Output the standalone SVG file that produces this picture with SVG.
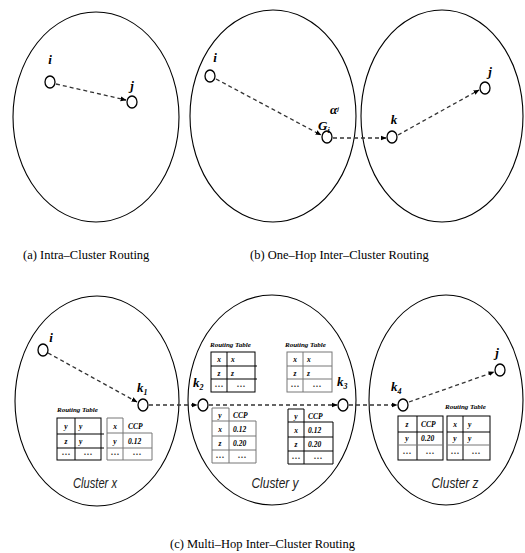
<svg xmlns="http://www.w3.org/2000/svg" width="525" height="553" viewBox="0 0 525 553">
<defs>
<marker id="ah" viewBox="0 0 10 10" refX="9" refY="5" markerWidth="6" markerHeight="6" orient="auto" markerUnits="userSpaceOnUse">
<path d="M0,1 L10,5 L0,9 Z" fill="#000"/>
</marker>
<style>
.cl{fill:none;stroke:#000;stroke-width:1.1}
.nd{fill:#fff;stroke:#000;stroke-width:1.3}
.ed{fill:none;stroke:#333;stroke-width:1.3;stroke-dasharray:4,3;marker-end:url(#ah)}
.lb{font-family:"Liberation Serif",serif;font-style:italic;font-weight:bold;font-size:13px;fill:#000}
.sb{font-size:8px}
.cap{font-family:"Liberation Serif",serif;font-size:12.5px;fill:#000}
.cn{font-family:"Liberation Sans",sans-serif;font-style:italic;font-size:14px;fill:#222}
.tb{fill:none;stroke:#000;stroke-width:1}
.tg{fill:none;stroke:#777;stroke-width:1}
.tt{font-family:"Liberation Serif",serif;font-style:italic;font-weight:bold;font-size:7.5px;fill:#000}
.dt{font-family:"DejaVu Sans",sans-serif;font-size:5px;fill:#000}
.rt{font-family:"Liberation Serif",serif;font-style:italic;font-weight:bold;font-size:7px;fill:#000}
</style>
</defs>
<rect width="525" height="553" fill="#fff"/>

<!-- clusters -->
<g id="clusterA"><ellipse class="cl" cx="96" cy="117" rx="83" ry="105"/></g>
<g id="clusterB1"><ellipse class="cl" cx="273" cy="116" rx="83" ry="106"/></g>
<g id="clusterB2"><ellipse class="cl" cx="442" cy="116" rx="81" ry="106"/></g>
<g id="clusterX"><ellipse class="cl" cx="97" cy="401" rx="82" ry="105"/><text class="cn" x="95" y="488" text-anchor="middle" textLength="44" lengthAdjust="spacingAndGlyphs">Cluster x</text></g>
<g id="clusterY"><ellipse class="cl" cx="272" cy="400" rx="84" ry="105"/><text class="cn" x="275" y="488" text-anchor="middle" textLength="47" lengthAdjust="spacingAndGlyphs">Cluster y</text></g>
<g id="clusterZ"><ellipse class="cl" cx="446" cy="400" rx="77" ry="105"/><text class="cn" x="455" y="488" text-anchor="middle" textLength="47" lengthAdjust="spacingAndGlyphs">Cluster z</text></g>

<!-- connectors -->
<g id="connectors">
<line class="ed" x1="56" y1="84" x2="126" y2="100"/>
<line class="ed" x1="216" y1="79" x2="321" y2="135"/>
<line class="ed" x1="333" y1="138" x2="386" y2="138"/>
<line class="ed" x1="398" y1="135" x2="479" y2="90"/>
<line class="ed" x1="48" y1="353" x2="137" y2="402"/>
<line class="ed" x1="149" y1="405" x2="197" y2="405"/>
<line class="ed" x1="209" y1="405" x2="337" y2="405"/>
<line class="ed" x1="349" y1="405" x2="397" y2="405"/>
<line class="ed" x1="409" y1="402" x2="494" y2="372"/>
</g>

<!-- nodes -->
<g id="a_i"><ellipse class="nd" cx="50" cy="82" rx="5" ry="6"/><text class="lb" x="50" y="64" text-anchor="middle">i</text></g>
<g id="a_j"><ellipse class="nd" cx="132" cy="102" rx="5" ry="6"/><text class="lb" x="132" y="90" text-anchor="middle">j</text></g>
<g id="b_i"><ellipse class="nd" cx="210" cy="76" rx="5" ry="6"/><text class="lb" x="215" y="62" text-anchor="middle">i</text></g>
<g id="b_G"><ellipse class="nd" cx="327" cy="137" rx="5" ry="6"/><text class="lb" x="318" y="130">G<tspan class="sb" dy="3">i</tspan></text><text class="lb" x="330" y="114" font-size="8px">α<tspan font-size="6px" dy="-3">j</tspan></text></g>
<g id="b_k"><ellipse class="nd" cx="392" cy="137" rx="5" ry="6"/><text class="lb" x="394" y="124" text-anchor="middle">k</text></g>
<g id="b_j"><ellipse class="nd" cx="485" cy="88" rx="5" ry="6"/><text class="lb" x="490" y="76" text-anchor="middle">j</text></g>

<g id="c_i"><ellipse class="nd" cx="43" cy="350" rx="5" ry="6"/><text class="lb" x="51" y="342" text-anchor="middle">i</text></g>
<g id="c_k1"><ellipse class="nd" cx="143" cy="405" rx="5" ry="6"/><text class="lb" x="137" y="392">k<tspan class="sb" dy="3">1</tspan></text></g>
<g id="c_k2"><ellipse class="nd" cx="203" cy="405" rx="5" ry="6"/><text class="lb" x="193" y="387">k<tspan class="sb" dy="3">2</tspan></text></g>
<g id="c_k3"><ellipse class="nd" cx="343" cy="405" rx="5" ry="6"/><text class="lb" x="337" y="386">k<tspan class="sb" dy="3">3</tspan></text></g>
<g id="c_k4"><ellipse class="nd" cx="403" cy="405" rx="5" ry="6"/><text class="lb" x="391" y="391">k<tspan class="sb" dy="3">4</tspan></text></g>
<g id="c_j"><ellipse class="nd" cx="500" cy="370" rx="5" ry="6"/><text class="lb" x="497" y="357" text-anchor="middle">j</text></g>

<!-- tables cluster x -->
<g id="x_rt">
<text class="rt" x="57" y="412">Routing Table</text>
<rect class="tb" x="57" y="418" width="44" height="42"/>
<line class="tb" x1="75" y1="418" x2="75" y2="460"/>
<line class="tb" x1="57" y1="434" x2="104" y2="434" stroke-width="1.4"/>
<line class="tb" x1="57" y1="448" x2="104" y2="448" stroke-width="1.4"/>
<text class="tt" x="66" y="429" text-anchor="middle">y</text><text class="tt" x="79" y="429">y</text>
<text class="tt" x="66" y="444" text-anchor="middle">z</text><text class="tt" x="79" y="444">y</text>
<text class="dt" x="66" y="456" text-anchor="middle">•••</text><text class="dt" x="88" y="456" text-anchor="middle">•••</text>
</g>
<g id="x_ccp">
<path class="tg" d="M107,418 H123 V433 H152 V460 H107 Z"/>
<line class="tg" x1="107" y1="433" x2="123" y2="433"/>
<line class="tg" x1="123" y1="433" x2="123" y2="460"/>
<line class="tg" x1="107" y1="448" x2="152" y2="448"/>
<text class="tt" x="115" y="429" text-anchor="middle">x</text><text class="tt" x="128" y="429">CCP</text>
<text class="tt" x="115" y="444" text-anchor="middle">y</text><text class="tt" x="128" y="444">0.12</text>
<text class="dt" x="115" y="456" text-anchor="middle">•••</text><text class="dt" x="137" y="456" text-anchor="middle">•••</text>
</g>

<!-- tables cluster y -->
<g id="y_rt1">
<text class="rt" x="210" y="347">Routing Table</text>
<rect class="tb" x="211" y="352" width="44" height="40" stroke-width="1.3"/>
<line class="tb" x1="227" y1="352" x2="227" y2="392"/>
<line class="tb" x1="211" y1="366" x2="257" y2="366"/>
<line class="tb" x1="211" y1="379" x2="257" y2="379"/>
<text class="tt" x="219" y="362" text-anchor="middle">x</text><text class="tt" x="231" y="362">x</text>
<text class="tt" x="219" y="376" text-anchor="middle">z</text><text class="tt" x="231" y="376">z</text>
<text class="dt" x="219" y="388" text-anchor="middle">•••</text><text class="dt" x="241" y="388" text-anchor="middle">•••</text>
</g>
<g id="y_rt2">
<text class="rt" x="285" y="347">Routing Table</text>
<rect class="tg" x="287" y="352" width="45" height="40"/>
<line class="tg" x1="303" y1="352" x2="303" y2="392"/>
<line class="tg" x1="287" y1="366" x2="332" y2="366"/>
<line class="tg" x1="287" y1="379" x2="332" y2="379"/>
<text class="tt" x="295" y="362" text-anchor="middle">x</text><text class="tt" x="307" y="362">x</text>
<text class="tt" x="295" y="376" text-anchor="middle">z</text><text class="tt" x="307" y="376">z</text>
<text class="dt" x="295" y="388" text-anchor="middle">•••</text><text class="dt" x="317" y="388" text-anchor="middle">•••</text>
</g>
<g id="y_ccp1">
<path class="tg" d="M212,408 H229 V421 H256 V463 H212 Z"/>
<line class="tg" x1="212" y1="421" x2="229" y2="421"/>
<line class="tg" x1="229" y1="421" x2="229" y2="463"/>
<line class="tg" x1="212" y1="436" x2="256" y2="436"/>
<line class="tg" x1="212" y1="450" x2="256" y2="450"/>
<text class="tt" x="220" y="418" text-anchor="middle">y</text><text class="tt" x="233" y="418">CCP</text>
<text class="tt" x="220" y="432" text-anchor="middle">x</text><text class="tt" x="233" y="432">0.12</text>
<text class="tt" x="220" y="446" text-anchor="middle">z</text><text class="tt" x="233" y="446">0.20</text>
<text class="dt" x="220" y="459" text-anchor="middle">•••</text><text class="dt" x="242" y="459" text-anchor="middle">•••</text>
</g>
<g id="y_ccp2">
<path class="tb" d="M288,409 H304 V422 H333 V464 H288 Z"/>
<line class="tb" x1="288" y1="422" x2="304" y2="422"/>
<line class="tb" x1="304" y1="422" x2="304" y2="464"/>
<line class="tb" x1="288" y1="437" x2="333" y2="437"/>
<line class="tb" x1="288" y1="451" x2="333" y2="451"/>
<text class="tt" x="296" y="419" text-anchor="middle">y</text><text class="tt" x="308" y="419">CCP</text>
<text class="tt" x="296" y="433" text-anchor="middle">x</text><text class="tt" x="308" y="433">0.12</text>
<text class="tt" x="296" y="447" text-anchor="middle">z</text><text class="tt" x="308" y="447">0.20</text>
<text class="dt" x="296" y="460" text-anchor="middle">•••</text><text class="dt" x="318" y="460" text-anchor="middle">•••</text>
</g>

<!-- tables cluster z -->
<g id="z_ccp">
<rect class="tb" x="398" y="416" width="45" height="44"/>
<line class="tb" x1="417" y1="416" x2="417" y2="460"/>
<line class="tb" x1="398" y1="432" x2="443" y2="432"/>
<line class="tg" x1="398" y1="445" x2="443" y2="445"/>
<text class="tt" x="407" y="427" text-anchor="middle">z</text><text class="tt" x="421" y="427">CCP</text>
<text class="tt" x="407" y="441" text-anchor="middle">y</text><text class="tt" x="421" y="441">0.20</text>
<text class="dt" x="407" y="455" text-anchor="middle">•••</text><text class="dt" x="430" y="455" text-anchor="middle">•••</text>
</g>
<g id="z_rt">
<text class="rt" x="445" y="409">Routing Table</text>
<rect class="tb" x="447" y="416" width="43" height="44"/>
<line class="tb" x1="463" y1="416" x2="463" y2="460"/>
<line class="tb" x1="447" y1="432" x2="490" y2="432"/>
<line class="tg" x1="447" y1="445" x2="490" y2="445"/>
<text class="tt" x="455" y="427" text-anchor="middle">x</text><text class="tt" x="468" y="427">y</text>
<text class="tt" x="455" y="441" text-anchor="middle">y</text><text class="tt" x="468" y="441">y</text>
<text class="dt" x="455" y="455" text-anchor="middle">•••</text><text class="dt" x="476" y="455" text-anchor="middle">•••</text>
</g>

<!-- captions -->
<text class="cap" x="23" y="259">(a) Intra–Cluster Routing</text>
<text class="cap" x="250" y="259">(b) One–Hop Inter–Cluster Routing</text>
<text class="cap" x="170" y="548">(c) Multi–Hop Inter–Cluster Routing</text>
</svg>
